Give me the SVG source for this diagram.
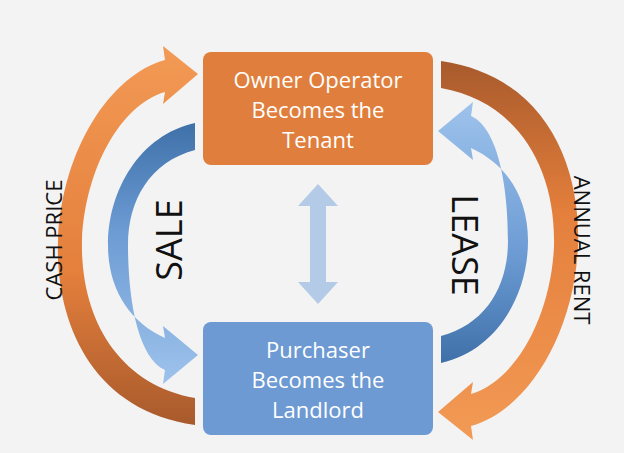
<svg xmlns="http://www.w3.org/2000/svg" width="624" height="453" viewBox="0 0 624 453">
<defs>
<linearGradient id="og" x1="0" y1="0" x2="0" y2="1"><stop offset="0" stop-color="#f29a55"/><stop offset="0.6" stop-color="#e47f3c"/><stop offset="1" stop-color="#a85a2c"/></linearGradient>
<linearGradient id="bg" x1="0" y1="0" x2="0" y2="1"><stop offset="0" stop-color="#3f70a8"/><stop offset="0.4" stop-color="#6b9ad3"/><stop offset="1" stop-color="#9ec3ec"/></linearGradient>
<style>
.t{font-family:"Open Sans","Liberation Sans",sans-serif;fill:#fff;font-size:22px;text-anchor:middle}
.l{font-family:"Open Sans","Liberation Sans",sans-serif;fill:#111;text-anchor:middle}
</style>
</defs>
<rect width="624" height="453" fill="#f3f3f3"/>
<g id="connectors">
<path id="cash" fill="url(#og)" d="M195,425 C90,410 55,320 58,240 C62,150 110,75 165,60 L163,46 L198,74 L163,104 L165,92 C120,105 85,170 82,240 C80,320 120,385 195,398 Z"/>
<path id="rent" fill="url(#og)" transform="rotate(180 318 243)" d="M195,425 C90,410 55,320 58,240 C62,150 110,75 165,60 L163,46 L198,74 L163,104 L165,92 C120,105 85,170 82,240 C80,320 120,385 195,398 Z"/>
<path id="sale" fill="url(#bg)" d="M195,123 C140,135 108,190 108,245 C108,290 130,322 165,338 L163,326 L198,355 L163,384 L165,370 C138,358 128,300 128,245 C128,200 150,162 195,150 Z"/>
<path id="lease" fill="url(#bg)" transform="rotate(180 318 243)" d="M195,123 C140,135 108,190 108,245 C108,290 130,322 165,338 L163,326 L198,355 L163,384 L165,370 C138,358 128,300 128,245 C128,200 150,162 195,150 Z"/>
<polygon id="mid" fill="#b4cbe8" points="318,184 338,206 326,206 326,282 338,282 318,304 298,282 310,282 310,206 298,206"/>
</g>
<g id="owner"><rect x="203" y="52" width="230" height="113" rx="8" fill="#e07f3d"/>
<text class="t" x="318" y="88">Owner Operator</text><text class="t" x="318" y="118">Becomes the</text><text class="t" x="318" y="148">Tenant</text></g>
<g id="purchaser"><rect x="203" y="322" width="230" height="113" rx="8" fill="#6d9ad3"/>
<text class="t" x="318" y="358">Purchaser</text><text class="t" x="318" y="388">Becomes the</text><text class="t" x="318" y="418">Landlord</text></g>
<text class="l" font-size="22" transform="translate(62,240) rotate(-90)">CASH PRICE</text>
<text class="l" font-size="36" transform="translate(182,240) rotate(-90)">SALE</text>
<text class="l" font-size="36" transform="translate(452,245) rotate(90)">LEASE</text>
<text class="l" font-size="22" transform="translate(574,250) rotate(90)">ANNUAL RENT</text>
</svg>
